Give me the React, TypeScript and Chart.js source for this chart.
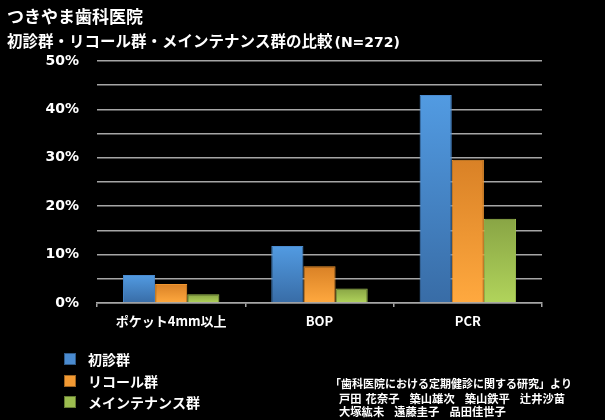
import React, { useEffect, useRef } from "react";
import { Chart, registerables } from "chart.js";

Chart.register(...registerables);

const categories = ["ポケット4mm以上", "BOP", "PCR"];
const seriesNames = ["初診群", "リコール群", "メインテナンス群"];
const initialGroup = [5.8, 11.8, 43.0];
const recallGroup = [3.9, 7.6, 29.6];
const maintenanceGroup = [1.8, 3.0, 17.4];
const yTickMax = 50;
const yTickStep = 5;

const titleLine1 = "つきやま歯科医院";
const titleLine2 = "初診群・リコール群・メインテナンス群の比較";
const titleSuffix = "(N=272)";
const citationTitle = "「歯科医院における定期健診に関する研究」より";
const authorsRow1 = ["戸田", "花奈子", "築山雄次", "築山鉄平", "辻井沙苗"];
const authorsRow2 = ["大塚紘未", "遠藤圭子", "品田佳世子"];

const JP = "'Noto Sans CJK JP', 'Liberation Sans', sans-serif";

const palettes = [
  { top: "#529be2", bottom: "#386ca6", border: "#4a8bd0", swatch: "#4a8bd0" },
  { top: "#d98126", bottom: "#ffa93f", border: "#f0962f", swatch: "#f39a33" },
  { top: "#89a545", bottom: "#b1d45b", border: "#9dbd50", swatch: "#9cbd4f" },
];

function barGradient(idx: number) {
  return (ctx: any) => {
    const chart = ctx.chart;
    const p = palettes[idx];
    const y = chart.scales && chart.scales.y;
    if (!y || ctx.type !== "data" || typeof ctx.raw !== "number") return p.border;
    const top = y.getPixelForValue(ctx.raw);
    const bottom = y.getPixelForValue(0);
    if (!isFinite(top) || !isFinite(bottom) || top === bottom) return p.border;
    const g = chart.ctx.createLinearGradient(0, top, 0, bottom);
    g.addColorStop(0, p.top);
    g.addColorStop(1, p.bottom);
    return g;
  };
}

function drawRow(c: CanvasRenderingContext2D, parts: string[], x0: number, y: number, gaps: number[]) {
  let x = x0;
  parts.forEach((t, i) => {
    c.fillText(t, x, y);
    x += c.measureText(t).width + (gaps[i] ?? 0);
  });
}

const decorPlugin = {
  id: "decor",
  afterDraw(chart: any) {
    const c = chart.ctx;
    c.save();
    c.fillStyle = "#ffffff";
    c.textBaseline = "middle";
    c.textAlign = "left";
    c.font = `bold 17px ${JP}`;
    c.fillText(titleLine1, 7, 17);
    c.font = `bold 15.5px ${JP}`;
    c.fillText(titleLine2, 7, 41);
    const w = c.measureText(titleLine2).width;
    c.font = `bold 14px 'DejaVu Sans', sans-serif`;
    c.fillText(titleSuffix, 7 + w + 2, 43);

    // legend
    const rows = [359, 381, 402];
    c.font = `bold 14px ${JP}`;
    seriesNames.forEach((name, i) => {
      const y = rows[i];
      c.fillStyle = palettes[i].swatch;
      c.fillRect(64, y - 6, 12, 12);
      c.strokeStyle = "rgba(0,0,0,0.35)";
      c.lineWidth = 1;
      c.strokeRect(64.5, y - 5.5, 11, 11);
      c.fillStyle = "#ffffff";
      c.fillText(name, 88, y + 1);
    });

    // citation
    c.font = `bold 11px ${JP}`;
    c.fillText(citationTitle, 330, 384);
    c.font = `bold 11.3px ${JP}`;
    drawRow(c, authorsRow1, 339, 399, [4, 10, 10, 10]);
    drawRow(c, authorsRow2, 339, 412, [10, 10]);
    c.restore();
  },
};

export default function App() {
  const ref = useRef<HTMLCanvasElement | null>(null);

  useEffect(() => {
    if (!ref.current) return;
    const chart = new Chart(ref.current, {
      type: "bar",
      data: {
        labels: categories,
        datasets: [initialGroup, recallGroup, maintenanceGroup].map((d, i) => ({
          label: seriesNames[i],
          data: d,
          backgroundColor: barGradient(i),
          borderColor: palettes[i].border,
          borderWidth: 1,
          categoryPercentage: 0.65,
          barPercentage: 1.0,
        })),
      },
      options: {
        animation: false,
        responsive: false,
        maintainAspectRatio: false,
        layout: { padding: { left: 0, top: 61, right: 63, bottom: 0 } },
        plugins: {
          legend: { display: false },
          title: { display: false },
          tooltip: { enabled: false },
        },
        scales: {
          x: {
            afterFit: (s: any) => {
              s.height = 117;
            },
            grid: {
              offset: true,
              drawOnChartArea: false,
              drawTicks: true,
              tickLength: 4,
              color: "#a6a6a6",
              lineWidth: 1.5,
            },
            border: { display: true, color: "#a6a6a6", width: 1.5 },
            ticks: {
              color: "#ffffff",
              padding: 6,
              font: { family: JP, size: 13, weight: "bold" },
              maxRotation: 0,
            },
          },
          y: {
            min: 0,
            max: yTickMax,
            afterFit: (s: any) => {
              s.width = 97;
            },
            grid: {
              color: "#a6a6a6",
              lineWidth: 1.5,
              drawTicks: false,
            },
            border: { display: false },
            ticks: {
              stepSize: yTickStep,
              color: "#ffffff",
              padding: 18,
              font: { family: "'DejaVu Sans', sans-serif", size: 14, weight: "bold" },
              callback: (v: any) => (Number(v) % 10 === 0 ? `${v}%` : ""),
            },
          },
        },
      },
      plugins: [decorPlugin],
    });
    return () => chart.destroy();
  }, []);

  return (
    <div
      style={{
        position: "fixed",
        left: 0,
        top: 0,
        width: 605,
        height: 420,
        background: "#000000",
      }}
    >
      <canvas ref={ref} width={605} height={420} style={{ display: "block", width: 605, height: 420 }} />
    </div>
  );
}
